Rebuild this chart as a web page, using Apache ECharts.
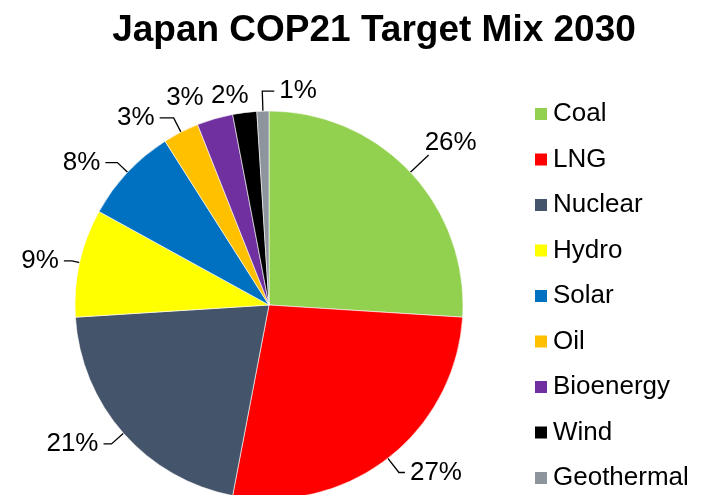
<!DOCTYPE html>
<html>
<head>
<meta charset="utf-8">
<script src="https://cdn.jsdelivr.net/npm/echarts@6/dist/echarts.min.js"></script>
<style>html,body{margin:0;padding:0;background:#fff;}#c{width:707px;height:495px;}</style>
</head>
<body>
<div id="c"></div>
<script>
const categories = ['Coal', 'LNG', 'Nuclear', 'Hydro', 'Solar', 'Oil', 'Bioenergy', 'Wind', 'Geothermal'];
const shares = [26, 27, 21, 9, 8, 3, 3, 2, 1];
const colors = ['#92D050', '#FF0000', '#44546A', '#FFFF00', '#0070C0', '#FFC000', '#7030A0', '#000000', '#8E949B'];
// leader line lengths per slice [radial, horizontal]
const leaderLen = [[25, 0], [18, 6], [16, 8], [8, 8], [14, 12], [16, 14], [22, 0], [17, 0], [20, 12]];
const leaderVisible = [true, true, true, true, true, true, false, false, true];

const chart = echarts.init(document.getElementById('c'), null, {renderer: 'canvas'});
const font = 'Liberation Sans, Arial, sans-serif';
chart.setOption({
  animation: false,
  color: colors,
  title: {
    text: 'Japan COP21 Target Mix 2030',
    left: 369, top: 7, textAlign: 'center',
    textStyle: {fontFamily: font, fontSize: 37, fontWeight: 'bold', color: '#000'}
  },
  legend: {
    orient: 'vertical', left: 533, top: 101, padding: 0,
    icon: 'rect', itemWidth: 14, itemHeight: 14, itemGap: 19.5,
    textStyle: {fontFamily: font, fontSize: 26, color: '#000', lineHeight: 26},
    data: categories
  },
  series: [{
    type: 'pie',
    center: [269, 305],
    radius: 194,
    startAngle: 90,
    clockwise: true,
    avoidLabelOverlap: false,
    itemStyle: {borderColor: '#fff', borderWidth: 0.6},
    label: {
      show: true, position: 'outside',
      formatter: p => p.value + '%',
      fontFamily: font, fontSize: 26, color: '#000'
    },
    labelLine: {show: true, lineStyle: {color: '#000', width: 1.3}},
    labelLayout: function (params) {
      const pts = params.labelLinePoints;
      if (params.dataIndex === 8 && pts) {
        // flip the horizontal leg to the right side
        const p2 = [2 * pts[1][0] - pts[2][0], pts[2][1]];
        return {x: p2[0] + 5, y: p2[1], align: 'left', verticalAlign: 'middle',
                labelLinePoints: [pts[0], pts[1], p2]};
      }
      if (params.dataIndex === 0) {
        return {dx: -9, dy: -12};
      }
      if (params.dataIndex === 7) {
        return {dx: 11};
      }
    },
    data: categories.map((c, i) => ({
      name: c, value: shares[i],
      labelLine: {
        length: leaderLen[i][0], length2: leaderLen[i][1],
        lineStyle: {opacity: leaderVisible[i] ? 1 : 0}
      }
    }))
  }]
});
</script>
</body>
</html>
